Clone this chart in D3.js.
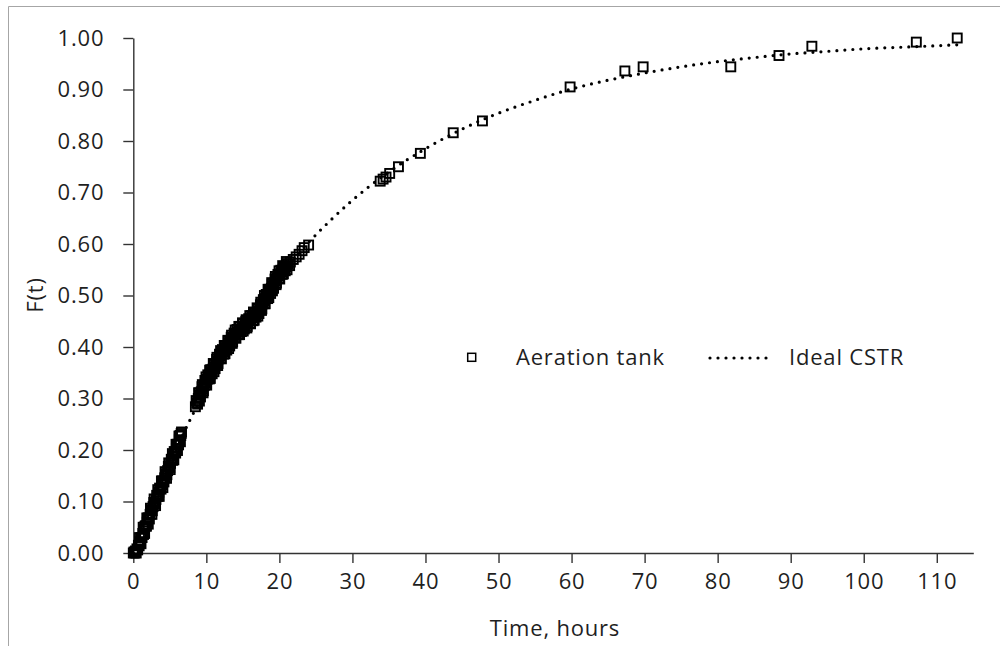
<!DOCTYPE html>
<html>
<head>
<meta charset="utf-8">
<script src="https://cdn.jsdelivr.net/npm/d3@7"></script>
<style>
  html, body { margin: 0; padding: 0; background: #fff; }
  svg { display: block; }
  text { font-family: "Open Sans", sans-serif; fill: #1f1f1f; }
</style>
</head>
<body>
<div id="chart"></div>
<script>
// ---------- data ----------
const tankT = [
  // first dense cluster
  0.0, 0.1, 0.3, 0.5, 0.7, 0.9, 1.1, 1.3, 1.5, 1.7, 1.9, 2.1, 2.3, 2.5, 2.7, 2.9,
  3.1, 3.3, 3.5, 3.7, 3.9, 4.1, 4.3, 4.5, 4.7, 4.9, 5.1, 5.3, 5.5, 5.7, 5.9, 6.1,
  6.3, 6.5, 6.6,
  0.2, 0.4, 0.6, 0.8, 1.0, 1.2, 1.4, 1.6, 1.8, 2.0, 2.2, 2.4, 2.6, 2.8, 3.0, 3.2,
  3.4, 3.6, 3.8, 4.0, 4.2, 4.4, 4.6, 4.8, 5.0, 5.2, 5.4, 5.6, 5.8, 6.0, 6.2, 6.4, 6.55,
  1.05, 1.55, 2.05, 2.55, 3.05, 3.55, 4.05, 4.55, 5.05, 5.55, 6.05, 6.45,
  0.85, 1.35, 1.85, 2.35, 2.85, 3.35, 3.85, 4.35, 4.85, 5.35, 5.85, 6.25,
  // second dense cluster
  8.5, 8.7, 8.9, 9.1, 9.3, 9.5, 9.7, 9.9, 10.1, 10.3, 10.5, 10.7, 10.9, 11.1, 11.3,
  11.5, 11.7, 11.9, 12.1, 12.3, 12.5, 12.7, 12.9, 13.1, 13.3, 13.5, 13.7, 13.9, 14.1,
  14.3, 14.5, 14.7, 14.9, 15.1, 15.3, 15.5, 15.7, 15.9, 16.1, 16.3, 16.5, 16.7, 16.9,
  17.1, 17.3, 17.5, 17.7, 17.9, 18.1, 18.3, 18.5, 18.7, 18.9, 19.1, 19.3, 19.5, 19.7,
  19.9, 20.1, 20.3, 20.5, 20.7, 20.9, 21.2, 21.5, 21.9, 22.3, 22.7, 23.1, 23.4, 24.0,
  8.6, 8.8, 9.0, 9.2, 9.4, 9.6, 9.8, 10.0, 10.2, 10.4, 10.6, 10.8, 11.0, 11.2, 11.4,
  11.6, 11.8, 12.0, 12.2, 12.4, 12.6, 12.8, 13.0, 13.2, 13.4, 13.6, 13.8, 14.0, 14.2,
  14.4, 14.6, 14.8, 15.0, 15.2, 15.4, 15.6, 15.8, 16.0, 16.2, 16.4, 16.6, 16.8, 17.0,
  17.2, 17.4, 17.6, 17.8, 18.0, 18.2, 18.4, 18.6, 18.8, 19.0, 19.2, 19.4, 19.6, 19.8,
  20.0, 20.2, 20.4, 20.6, 20.8, 21.0, 21.4,
  9.05, 9.55, 10.05, 10.55, 11.05, 11.55, 12.05, 12.55, 13.05, 13.55, 14.05, 14.55,
  15.05, 15.55, 16.05, 16.55, 17.05, 17.55, 18.05, 18.55, 19.05, 19.55, 20.05, 20.55, 21.05,
  8.95, 9.45, 9.95, 10.45, 10.95, 11.45, 11.95, 12.45, 12.95, 13.45, 13.95, 14.45,
  14.95, 15.45, 15.95, 16.45, 16.95, 17.45, 17.95, 18.45, 18.95, 19.45, 19.95, 20.45, 20.95,
  // sparse points
  33.8, 34.2, 34.6, 35.1, 36.3, 39.3, 43.8, 47.8, 59.8, 67.3, 69.8, 81.8, 88.4, 92.9,
  107.2, 112.8
];
const tankF = [
  0.000, 0.002, 0.004, 0.008, 0.015, 0.022, 0.030, 0.038, 0.046, 0.053, 0.060, 0.068,
  0.075, 0.083, 0.090, 0.097, 0.104, 0.111, 0.118, 0.125, 0.132, 0.139, 0.146, 0.153,
  0.160, 0.167, 0.174, 0.181, 0.189, 0.196, 0.203, 0.211, 0.220, 0.228, 0.235,
  0.000, 0.000, 0.006, 0.014, 0.020, 0.030, 0.036, 0.052, 0.052, 0.068, 0.066, 0.084,
  0.082, 0.098, 0.096, 0.112, 0.110, 0.126, 0.124, 0.140, 0.138, 0.154, 0.152, 0.168,
  0.166, 0.182, 0.180, 0.197, 0.194, 0.211, 0.210, 0.228, 0.232,
  0.018, 0.038, 0.056, 0.075, 0.092, 0.110, 0.127, 0.145, 0.162, 0.181, 0.199, 0.216,
  0.030, 0.050, 0.068, 0.087, 0.105, 0.123, 0.140, 0.158, 0.175, 0.193, 0.211, 0.227,
  0.284, 0.292, 0.300, 0.307, 0.313, 0.319, 0.325, 0.331, 0.337, 0.342, 0.347, 0.352,
  0.357, 0.362, 0.367, 0.372, 0.377, 0.382, 0.387, 0.391, 0.395, 0.399, 0.403, 0.407,
  0.411, 0.415, 0.419, 0.423, 0.426, 0.429, 0.432, 0.435, 0.438, 0.440, 0.443, 0.445,
  0.448, 0.451, 0.454, 0.457, 0.460, 0.463, 0.466, 0.470, 0.474, 0.479, 0.484, 0.489,
  0.494, 0.499, 0.504, 0.509, 0.514, 0.519, 0.524, 0.529, 0.534, 0.538, 0.542, 0.546,
  0.550, 0.553, 0.556, 0.561, 0.565, 0.570, 0.575, 0.580, 0.587, 0.593, 0.598,
  0.296, 0.289, 0.311, 0.303, 0.323, 0.315, 0.335, 0.327, 0.346, 0.338, 0.356, 0.348,
  0.366, 0.358, 0.376, 0.368, 0.386, 0.378, 0.395, 0.386, 0.403, 0.394, 0.411, 0.402,
  0.419, 0.410, 0.427, 0.418, 0.434, 0.424, 0.440, 0.430, 0.445, 0.435, 0.450, 0.440,
  0.455, 0.446, 0.461, 0.451, 0.467, 0.458, 0.474, 0.465, 0.482, 0.474, 0.492, 0.484,
  0.502, 0.494, 0.512, 0.504, 0.522, 0.514, 0.532, 0.524, 0.541, 0.533, 0.549, 0.541,
  0.556, 0.548, 0.562, 0.558,
  0.295, 0.311, 0.326, 0.339, 0.352, 0.364, 0.377, 0.387, 0.397, 0.407, 0.417, 0.424,
  0.431, 0.437, 0.445, 0.452, 0.460, 0.471, 0.484, 0.496, 0.509, 0.521, 0.532, 0.542, 0.550,
  0.311, 0.327, 0.342, 0.355, 0.368, 0.380, 0.393, 0.403, 0.413, 0.423, 0.433, 0.440,
  0.447, 0.453, 0.461, 0.468, 0.476, 0.487, 0.500, 0.512, 0.525, 0.537, 0.548, 0.558, 0.566,
  0.722, 0.726, 0.730, 0.737, 0.750, 0.776, 0.816, 0.839, 0.905, 0.936, 0.944, 0.944,
  0.966, 0.984, 0.992, 1.000
];
const cstrT = [0, 2, 4, 6, 8, 10, 12, 15, 18, 21, 24, 27, 30, 35, 40, 45, 50, 55, 60,
  65, 70, 75, 80, 85, 90, 95, 100, 105, 110, 113];
const cstrF = [0, 0.074, 0.143, 0.206, 0.265, 0.319, 0.370, 0.438, 0.500, 0.554, 0.603,
  0.646, 0.685, 0.740, 0.785, 0.823, 0.854, 0.879, 0.901, 0.918, 0.932, 0.944, 0.954,
  0.962, 0.969, 0.974, 0.979, 0.982, 0.985, 0.987];
const xTicks = [0, 10, 20, 30, 40, 50, 60, 70, 80, 90, 100, 110];
const yTicks = [0, 0.1, 0.2, 0.3, 0.4, 0.5, 0.6, 0.7, 0.8, 0.9, 1.0];
const seriesNames = ["Aeration tank", "Ideal CSTR"];
const xTitle = "Time, hours";
const yTitle = "F(t)";

// ---------- drawing ----------
const W = 1000, H = 646;
const svg = d3.select("#chart").append("svg").attr("width", W).attr("height", H);

// outer chart border (cropped screenshot: left and top visible)
svg.append("path")
  .attr("d", `M8.5,${H} V6.5 H${W}`)
  .attr("fill", "none").attr("stroke", "#a6a6a6").attr("stroke-width", 1);

const x = d3.scaleLinear().domain([0, 115]).range([133.3, 973.3]);
const y = d3.scaleLinear().domain([0, 1]).range([553, 38]);

const fontSize = 22, ls = "0.8px";

// X axis
const xAxis = svg.append("g").attr("transform", `translate(0,${y(0)})`)
  .call(d3.axisBottom(x).tickValues(xTicks).tickSize(10).tickPadding(10).tickSizeOuter(0)
    .tickFormat(d3.format("d")));
// Y axis
const yAxis = svg.append("g").attr("transform", `translate(${x(0)},0)`)
  .call(d3.axisLeft(y).tickValues(yTicks).tickSize(10).tickPadding(19).tickSizeOuter(0)
    .tickFormat(d3.format(".2f")));

[xAxis, yAxis].forEach(g => {
  g.select(".domain").attr("stroke", "#333").attr("stroke-width", 1.4);
  g.selectAll(".tick line").attr("stroke", "#333").attr("stroke-width", 1.4);
  g.selectAll(".tick text").attr("font-size", fontSize).attr("fill", "#1f1f1f")
    .attr("font-family", "Open Sans, sans-serif").style("letter-spacing", ls);
});

// Ideal CSTR dotted line
const cstr = cstrT.map((t, i) => [t, cstrF[i]]);
svg.append("path")
  .datum(cstr)
  .attr("d", d3.line().x(d => x(d[0])).y(d => y(d[1])).curve(d3.curveMonotoneX))
  .attr("fill", "none").attr("stroke", "#000").attr("stroke-width", 3.2)
  .attr("stroke-linecap", "round").attr("stroke-dasharray", "0 8");

// Aeration tank squares
const tank = tankT.map((t, i) => [t, tankF[i]]);
const sq = 9;
svg.append("g").selectAll("rect").data(tank).join("rect")
  .attr("x", d => x(d[0]) - sq / 2).attr("y", d => y(d[1]) - sq / 2)
  .attr("width", sq).attr("height", sq)
  .attr("fill", "none").attr("stroke", "#000").attr("stroke-width", 1.9);

// Legend
const lg = svg.append("g");
lg.append("rect").attr("x", 471.7 - 4).attr("y", 357.3 - 4).attr("width", 8).attr("height", 8)
  .attr("fill", "none").attr("stroke", "#000").attr("stroke-width", 1.5);
lg.append("text").attr("x", 516).attr("y", 365).attr("font-size", fontSize)
  .style("letter-spacing", ls).text(seriesNames[0]);
lg.append("line").attr("x1", 710).attr("x2", 774).attr("y1", 358).attr("y2", 358)
  .attr("stroke", "#000").attr("stroke-width", 3.2).attr("stroke-linecap", "round")
  .attr("stroke-dasharray", "0 8");
lg.append("text").attr("x", 789).attr("y", 365).attr("font-size", fontSize)
  .style("letter-spacing", ls).text(seriesNames[1]);

// Axis titles
svg.append("text").attr("x", 555).attr("y", 636).attr("text-anchor", "middle")
  .attr("font-size", fontSize).style("letter-spacing", ls).text(xTitle);
svg.append("text").attr("transform", "translate(43,295) rotate(-90)")
  .attr("text-anchor", "middle").attr("font-size", fontSize)
  .style("letter-spacing", ls).text(yTitle);
</script>
</body>
</html>
